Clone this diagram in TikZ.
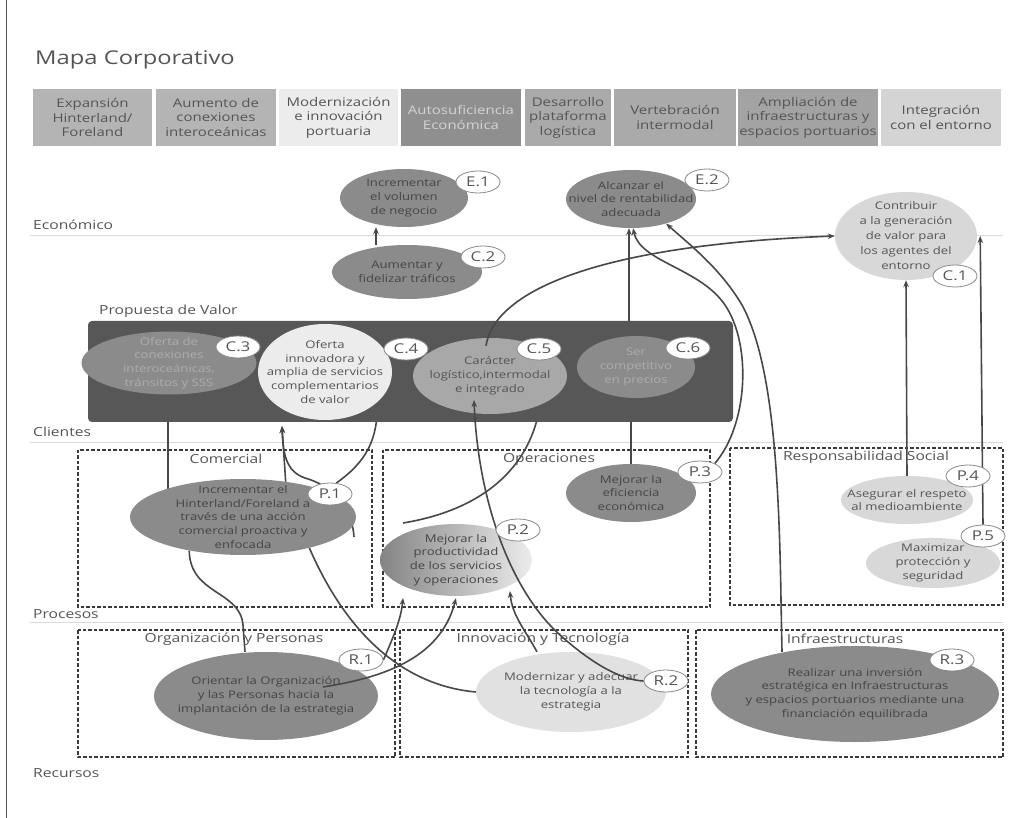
\documentclass[tikz,border=0pt]{standalone}
\usepackage{fontspec}
\setmainfont{Open Sans}[FakeStretch=1.25]
\usetikzlibrary{shapes.geometric,arrows.meta}
\definecolor{txt}{HTML}{555555}
\definecolor{txtd}{HTML}{454545}
\definecolor{txtl}{HTML}{ADADAD}
\definecolor{gD}{HTML}{8B8B8B}
\definecolor{gL}{HTML}{D8D8D8}
\definecolor{gC4}{HTML}{ECECEC}
\definecolor{gC5}{HTML}{A8A8A8}
\definecolor{gR2}{HTML}{E1E1E1}
\definecolor{boxdk}{HTML}{575757}
\definecolor{linec}{HTML}{484848}
\definecolor{dashc}{HTML}{3A3A3A}
\definecolor{secl}{HTML}{DADADA}
\definecolor{tagb}{HTML}{8A8A8A}
\definecolor{hA}{HTML}{B4B4B4}
\definecolor{hB}{HTML}{ECECEC}
\definecolor{hC}{HTML}{8F8F8F}
\definecolor{hD}{HTML}{AAAAAA}
\definecolor{hE}{HTML}{A3A3A3}
\definecolor{hF}{HTML}{D4D4D4}
\newcommand\fbody{\fontsize{10.5}{13.8}\selectfont}
\newcommand\fhead{\fontsize{12}{14.5}\selectfont}
\newcommand\flab{\fontsize{12.5}{15}\selectfont}
\newcommand\ftag{\fontsize{13.5}{15}\selectfont}
\newcommand\ftitle{\fontsize{19}{22}\selectfont}
\pgfdeclarelayer{back}
\pgfdeclarelayer{lineA}
\pgfdeclarelayer{boxl}
\pgfdeclarelayer{lineD}
\pgfdeclarelayer{tagl}
\pgfsetlayers{back,lineA,boxl,main,lineD,tagl}
\begin{document}
\begin{tikzpicture}[x=1pt,y=-1pt,
  hbox/.style={rectangle, inner sep=0pt, align=center, font=\fhead, text=txt, minimum height=57pt},
  ellb/.style 2 args={ellipse, inner sep=0pt, minimum width=#1, minimum height=#2},
  etext/.style={align=center, font=\fbody, inner sep=0pt, text=txtd},
  tagn/.style={ellipse, draw=tagb, line width=0.8pt, fill=white, inner sep=0pt, minimum width=44pt, minimum height=22pt, font=\ftag, text=txt},
  seclab/.style={anchor=west, font=\flab, text=txt, inner sep=0pt},
  glab/.style={font=\flab, text=txt, inner sep=0pt},
  secline/.style={draw=secl, line width=0.8pt},
  dbox/.style={draw=dashc, line width=1.3pt, dash pattern=on 3.5pt off 2pt},
  conn/.style={draw=linec, line width=1.6pt},
  arr/.style={conn, -{Stealth[length=7pt,width=5.5pt]}}
]
\useasboundingbox (0,0) rectangle (1021,818);
\begin{pgfonlayer}{back}
\fill[white] (0,0) rectangle (1021,818);
\draw[draw=txt, line width=0.8pt] (6,0) -- (6,818);
\node[anchor=west, font=\ftitle, text=txt, inner sep=0pt] (title) at (35,60) {Mapa Corporativo};
% header
\node[hbox, fill=hA, minimum width=119pt] (h1) at (92.5,117.5) {Expansión\\Hinterland/\\Foreland};
\node[hbox, fill=hA, minimum width=120pt] (h2) at (216,117.5) {Aumento de\\conexiones\\interoceánicas};
\node[hbox, fill=hB, minimum width=119pt] (h3) at (338.5,117.5) {Modernización\\e innovación\\portuaria};
\node[hbox, fill=hC, minimum width=120pt, text=hF] (h4) at (461,117.5) {Autosuficiencia\\Económica};
\node[hbox, fill=hD, minimum width=86pt] (h5) at (568,117.5) {Desarrollo\\plataforma\\logística};
\node[hbox, fill=hD, minimum width=122pt] (h6) at (675,117.5) {Vertebración\\intermodal};
\node[hbox, fill=hE, minimum width=140pt] (h7) at (808,117.5) {Ampliación de\\infraestructuras y\\espacios portuarios};
\node[hbox, fill=hF, minimum width=120pt] (h8) at (941,117.5) {Integración\\con el entorno};
% sections
\node[seclab] (lEco) at (33,225) {Económico};
\node[seclab] (lCli) at (33,432) {Clientes};
\node[seclab] (lPro) at (33,614) {Procesos};
\node[seclab] (lRec) at (33,773) {Recursos};
\node[seclab] (lPV) at (99,311) {Propuesta de Valor};
\draw[secline] (30,235) -- (1003,235);
\draw[secline] (30,442) -- (1003,442);
\draw[secline] (30,622) -- (1003,622);
% dashed groups
\draw[dbox] (78,450) rectangle (372,607);
\draw[dbox] (383,450) rectangle (710,607);
\draw[dbox] (730,448) rectangle (1003,605);
\draw[dbox] (78,630) rectangle (395,757);
\draw[dbox] (400,630) rectangle (688,757);
\draw[dbox] (696,630) rectangle (1003,757);
\node[glab] (gCom) at (226,459) {Comercial};
\node[glab] (gOpe) at (549,459) {Operaciones};
\node[glab] (gRes) at (866,457) {Responsabilidad Social};
\node[glab] (gOrg) at (234,639) {Organización y Personas};
\node[glab] (gInn) at (543,639) {Innovación y Tecnología};
\node[glab] (gInf) at (845,639) {Infraestructuras};
\end{pgfonlayer}

\begin{pgfonlayer}{boxl}
\fill[boxdk, rounded corners=4pt] (88,321) rectangle (733,422);
\end{pgfonlayer}

% ellipses
\node[ellb={128pt}{58pt}, fill=gD] (E1) at (404,198) {};
\node[etext] (E1t) at (E1) {Incrementar\\el volumen\\de negocio};
\node[ellb={130pt}{58pt}, fill=gD] (E2) at (631,199) {};
\node[etext] (E2t) at (E2) {Alcanzar el\\nivel de rentabilidad\\adecuada};
\node[ellb={150pt}{54pt}, fill=gD] (C2) at (407,272) {};
\node[etext] (C2t) at (C2) {Aumentar y\\fidelizar tráficos};
\node[ellb={142pt}{88pt}, fill=gL] (C1) at (906,236) {};
\node[etext, text=txt, font=\fontsize{10.5}{15}\selectfont] (C1t) at (C1) {Contribuir\\a la generación\\de valor para\\los agentes del\\entorno};
\node[ellb={175pt}{63pt}, fill=gD] (C3) at (169,363) {};
\node[etext, text=txtl] (C3t) at (C3) {Oferta de\\conexiones\\interoceánicas,\\tránsitos y SSS};
\node[ellb={134pt}{96pt}, fill=gC4] (C4) at (325,372) {};
\node[etext, text=txt] (C4t) at (C4) {Oferta\\innovadora y\\amplia de servicios\\complementarios\\de valor};
\node[ellb={154pt}{76pt}, fill=gC5] (C5) at (490,376) {};
\node[etext, text=txt] (C5t) at (C5) {Carácter\\logístico,intermodal\\e integrado};
\node[ellb={118pt}{62pt}, fill=gD] (C6) at (636,367) {};
\node[etext, text=txtl] (C6t) at (C6) {Ser\\competitivo\\en precios};
\node[ellb={226pt}{76pt}, fill=gD] (P1) at (243,517) {};
\node[etext] (P1t) at (P1) {Incrementar el\\Hinterland/Foreland a\\través de una acción\\comercial proactiva y\\enfocada};
\node[ellb={152pt}{72pt}, left color=gD!95!black, right color=hB] (P2) at (456,560) {};
\node[etext] (P2t) at (P2) {Mejorar la\\productividad\\de los servicios\\y operaciones};
\node[ellb={130pt}{58pt}, fill=gD] (P3) at (631,493) {};
\node[etext] (P3t) at (P3) {Mejorar la\\eficiencia\\económica};
\node[ellb={132pt}{48pt}, fill=gL] (P4) at (907,500) {};
\node[etext, text=txt] (P4t) at (P4) {Asegurar el respeto\\al medioambiente};
\node[ellb={134pt}{50pt}, fill=gL] (P5) at (933,563) {};
\node[etext, text=txt] (P5t) at (P5) {Maximizar\\protección y\\seguridad};
\node[ellb={224pt}{88pt}, fill=gD] (R1) at (266,696) {};
\node[etext] (R1t) at (R1) {Orientar la Organización\\y las Personas hacia la\\implantación de la estrategia};
\node[ellb={190pt}{80pt}, fill=gR2] (R2) at (571,692) {};
\node[etext, text=txt] (R2t) at (R2) {Modernizar y adecuar\\la tecnología a la\\estrategia};
\node[ellb={288pt}{96pt}, fill=gD] (R3) at (855,694) {};
\node[etext] (R3t) at (R3) {Realizar una inversión\\estratégica en Infraestructuras\\y espacios portuarios mediante una\\financiación equilibrada};

% tags
\begin{pgfonlayer}{tagl}
\node[tagn] (E1tag) at (478,182) {E.1};
\node[tagn] (E2tag) at (707,180) {E.2};
\node[tagn] (C2tag) at (483,257) {C.2};
\node[tagn] (C1tag) at (955,276) {C.1};
\node[tagn] (C3tag) at (238,347) {C.3};
\node[tagn] (C4tag) at (406,349) {C.4};
\node[tagn] (C5tag) at (539,349) {C.5};
\node[tagn] (C6tag) at (688,348) {C.6};
\node[tagn] (P1tag) at (330,494) {P.1};
\node[tagn] (P2tag) at (518,530) {P.2};
\node[tagn] (P3tag) at (700,472) {P.3};
\node[tagn] (P4tag) at (968,476) {P.4};
\node[tagn] (P5tag) at (983,536) {P.5};
\node[tagn] (R1tag) at (361,660) {R.1};
\node[tagn] (R2tag) at (666,681) {R.2};
\node[tagn] (R3tag) at (952,660) {R.3};
\end{pgfonlayer}

% connectors under the value box and ellipses
\begin{pgfonlayer}{lineA}
\draw[conn] ([xshift=-75pt]P1.center) -- ([xshift=-1pt]C3.center);
\draw[arr] ([xshift=45pt]P1.center) -- ([xshift=-43pt,yshift=-54pt]C4.center);
\draw[arr] ([shift={(111pt,-20pt)}]P1.center) .. controls (352,505) and (330,485) .. (305,478) .. controls (288,472) and (283,458) .. ([xshift=-43pt,yshift=-54pt]C4.center);
\draw[conn] (P1tag.60) .. controls (366,462) and (378,440) .. (C4.-30);
\draw[conn] ([shift={(-53pt,37pt)}]P2.center) .. controls (470,512) and (528,478) .. ([shift={(50pt,-30pt)}]C5.center);
\draw[conn] (P3.north) -- (P3.north |- C6.south);
\draw[arr] ([xshift=-7pt]C6.center) -- ([xshift=-2pt]E2.south);
\draw[conn] (R2.west) .. controls (400,685) and (345,630) .. (P1.-25);
\draw[conn] (P1.-148) .. controls (190,595) and (240,590) .. (243,625) -- ([xshift=-21pt]R1.north);
\end{pgfonlayer}

% connectors over the ellipses
\begin{pgfonlayer}{lineD}
\draw[arr] ([xshift=-31pt]C2.north) -- ([xshift=-28pt]E1.south);
\draw[arr] ([shift={(-4pt,-8pt)}]C5.north) .. controls (495,290) and (600,245) .. (C1.west);
\draw[arr] (R2tag.west) .. controls (620,680) and (590,662) .. (560,635) .. controls (510,590) and (478,500) .. ([shift={(-16pt,-24pt)}]C5.center);
\draw[arr] ([xshift=-34pt]R2.north) .. controls (525,630) and (512,615) .. ([shift={(54pt,-31pt)}]P2.center);
\draw[arr] (R1tag.east) .. controls (392,640) and (401,620) .. ([shift={(-53pt,-38pt)}]P2.center);
\draw[arr] ([shift={(57pt,9pt)}]R1.center) .. controls (380,678) and (440,660) .. ([yshift=-2pt]P2.south);
\draw[arr] ([shift={(-73pt,-6pt)}]R3.north) -- (781,600) .. controls (779,470) and (772,360) .. (742,305) .. controls (720,268) and (690,245) .. (E2.-35);
\draw[arr] (P3tag.30) .. controls (748,425) and (752,345) .. (725,305) .. controls (700,268) and (640,262) .. ([xshift=2pt]E2.south);
\draw[arr] (P4.north) -- (C1.south);
\draw[arr] (P5tag.north) -- ([xshift=3pt]C1.east);
\end{pgfonlayer}
\end{tikzpicture}
\end{document}
